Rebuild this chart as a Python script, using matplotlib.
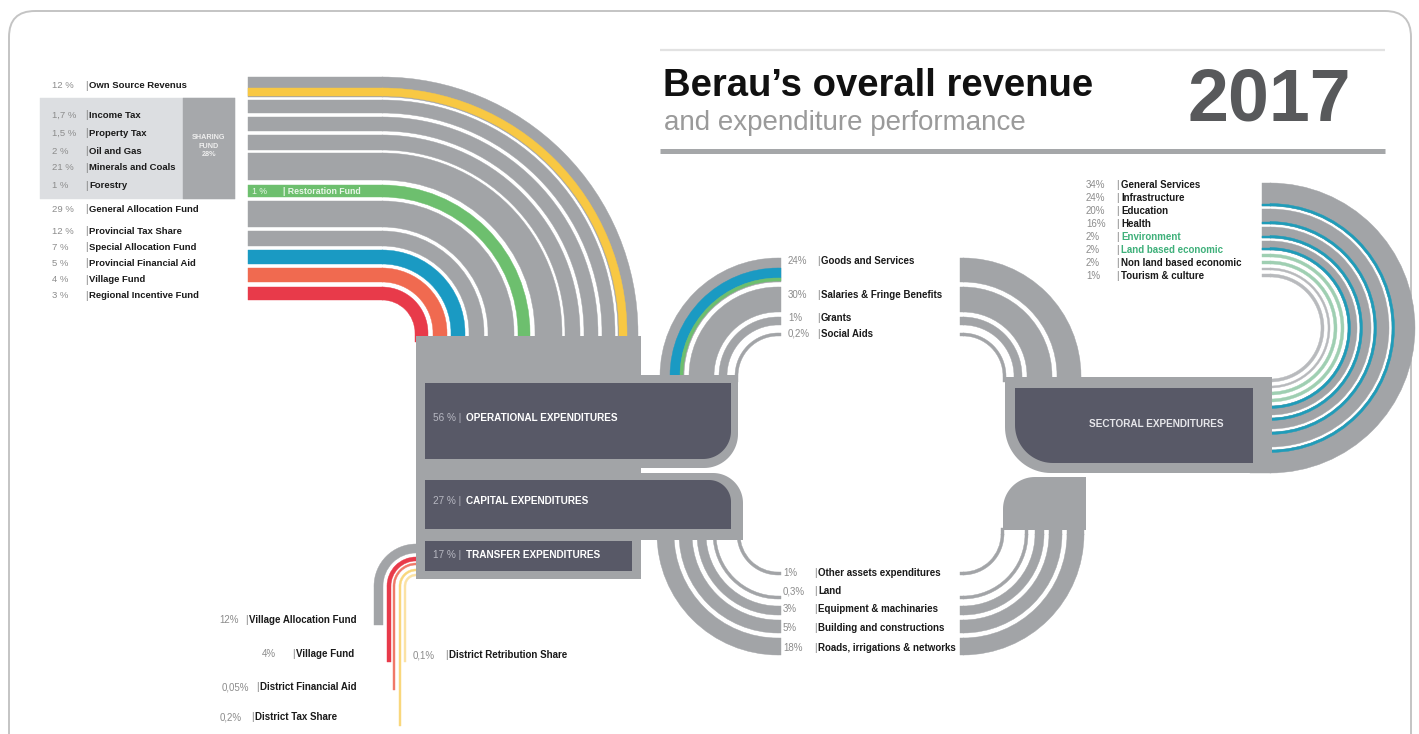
import matplotlib
matplotlib.use("Agg")
import matplotlib.pyplot as plt
from matplotlib.patches import Wedge, Rectangle, Polygon, FancyBboxPatch
import numpy as np

plt.rcParams['font.family'] = ['Liberation Sans', 'DejaVu Sans']

# ---------------- data ----------------
revenue_labels = ["Own Source Revenus", "Income Tax", "Property Tax", "Oil and Gas",
                  "Minerals and Coals", "Forestry", "General Allocation Fund",
                  "Provincial Tax Share", "Special Allocation Fund",
                  "Provincial Financial Aid", "Village Fund", "Regional Incentive Fund"]
revenue_pct = [12, 1.7, 1.5, 2, 21, 1, 29, 12, 7, 5, 4, 3]
sharing_fund_pct = 28
restoration_label = "Restoration Fund"
restoration_pct = 1

spending_labels = ["OPERATIONAL EXPENDITURES", "CAPITAL EXPENDITURES", "TRANSFER EXPENDITURES"]
spending_pct = [56, 27, 17]

operational_labels = ["Goods and Services", "Salaries & Fringe Benefits", "Grants", "Social Aids"]
operational_pct = [24, 30, 1, 0.2]

capital_labels = ["Other assets expenditures", "Land", "Equipment & machinaries",
                  "Building and constructions", "Roads, irrigations & networks"]
capital_pct = [1, 0.3, 3, 5, 18]

sectoral_title = "SECTORAL EXPENDITURES"
sectoral_labels = ["General Services", "Infrastructure", "Education", "Health",
                   "Environment", "Land based economic", "Non land based economic",
                   "Tourism & culture"]
sectoral_pct = [34, 24, 20, 16, 2, 2, 2, 1]

transfer_labels = ["Village Allocation Fund", "Village Fund", "District Financial Aid",
                   "District Tax Share", "District Retribution Share"]
transfer_pct = [12, 4, 0.05, 0.2, 0.1]

title = "Berau\u2019s overall revenue"
subtitle = "and expenditure performance"
year = "2017"

# ---------------- style ----------------
GRAY = '#a2a4a7'
DARK = '#585967'
LIGHT = '#dcdee1'
YELLOW = '#f8c843'
GREEN = '#6dbf6e'
BLUE = '#1a9ac3'
ORANGE = '#f06a50'
RED = '#e83a4a'
TEAL = '#1f9cb9'
PALEGREEN = '#9fcfb2'
PALEGRAY = '#b8babd'
TXTGREEN = '#3fb07a'


def fmt(v):
    return f"{v:g}".replace('.', ',')


fig = plt.figure(figsize=(14.19, 7.34), dpi=100)
ax = fig.add_axes([0, 0, 1, 1])
ax.set_xlim(0, 1419)
ax.set_ylim(734, 0)
ax.axis('off')


def rect(x0, y0, x1, y1, color, z=2):
    ax.add_patch(Rectangle((x0, y0), x1 - x0, y1 - y0, facecolor=color,
                           edgecolor=color, lw=0.3, zorder=z))


def arc(cx, cy, r_in, r_out, t1, t2, color, z=2):
    ax.add_patch(Wedge((cx, cy), r_out, t1, t2, width=r_out - r_in,
                       facecolor=color, edgecolor=color, lw=0.3, zorder=z))


def rrect(x0, y0, x1, y1, color, tl=0, tr=0, br=0, bl=0, z=3):
    def corner(cx, cy, r, a0, a1):
        t = np.radians(np.linspace(a0, a1, 24))
        return list(zip(cx + r * np.cos(t), cy + r * np.sin(t)))
    pts = []
    pts += corner(x0 + tl, y0 + tl, tl, 180, 270) if tl else [(x0, y0)]
    pts += corner(x1 - tr, y0 + tr, tr, 270, 360) if tr else [(x1, y0)]
    pts += corner(x1 - br, y1 - br, br, 0, 90) if br else [(x1, y1)]
    pts += corner(x0 + bl, y1 - bl, bl, 90, 180) if bl else [(x0, y1)]
    ax.add_patch(Polygon(pts, closed=True, facecolor=color, edgecolor='none', zorder=z))


# ---------------- outer frame ----------------
ax.add_patch(FancyBboxPatch((9, 11), 1402, 760, boxstyle="round,pad=0,rounding_size=26",
                            facecolor='none', edgecolor='#c4c4c4', lw=1.4, zorder=1))

# ---------------- revenue flows (top left) ----------------
RCX, RCY = 382, 333
rev_band_y = [(77, 97), (100, 113), (117, 131), (135, 150), (153, 180), (185, 197),
              (201, 227), (231, 246), (250, 264), (268, 282), (287, 300)]
rev_band_col = [GRAY, GRAY, GRAY, GRAY, GRAY, GREEN, GRAY, GRAY, BLUE, ORANGE, RED]
rev_stripes = [((88, 96), YELLOW)]


def rev_band(yt, yb, color):
    rect(248, yt, RCX + 0.5, yb, color)
    arc(RCX, RCY, RCY - yb, RCY - yt, 270, 360, color)
    rect(RCX + RCY - yb, RCY - 0.5, RCX + RCY - yt, 342, color)


for (yt, yb), c in zip(rev_band_y, rev_band_col):
    rev_band(yt, yb, c)
for (yt, yb), c in rev_stripes:
    rev_band(yt, yb, c)

# label panel
rect(40, 98, 235, 199, LIGHT, z=1)
rect(183, 98, 235, 199, '#a6a8ab', z=1)
ax.text(209, 146, f"SHARING\nFUND\n{sharing_fund_pct}%", color='#eeeeee', fontsize=5.2,
        fontweight='bold', ha='center', va='center', linespacing=1.25, zorder=4)

rev_rows = [86, 115, 133, 151, 168, 186, 209, 231, 247, 263, 280, 296]
for y, lab, p in zip(rev_rows, revenue_labels, revenue_pct):
    ax.text(52, y, f"{fmt(p)} %", fontsize=6.8, color='#8c8c8c', va='center', zorder=5)
    ax.text(85, y, "|", fontsize=7, color='#777777', va='center', zorder=5)
    ax.text(89, y, lab, fontsize=6.8, color='#1a1a1a', fontweight='bold', va='center', zorder=5)

ax.text(252, 191, f"{fmt(restoration_pct)} %", fontsize=6.3, color='#e9f6e9', va='center', zorder=5)
ax.text(283, 191, "| " + restoration_label, fontsize=6.3, color='#e9f6e9', fontweight='bold',
        va='center', zorder=5)

# ---------------- collector & expenditure boxes ----------------
rrect(416, 336, 641, 579, GRAY, z=3)
rrect(600, 375, 738, 468, GRAY, br=34, z=3)
rrect(600, 473, 743, 540, GRAY, tr=30, z=3)

rrect(425, 383, 731, 459, DARK, br=28, z=4)
rrect(425, 480, 731, 529, DARK, tr=22, z=4)
rrect(425, 541, 632, 571, DARK, z=4)

box_y = [418, 501, 555]
for y, lab, p in zip(box_y, spending_labels, spending_pct):
    ax.text(433, y, f"{p} % |", fontsize=7.2, color='#b7b8c2', va='center', zorder=6)
    ax.text(466, y, lab, fontsize=7.2, color='white', fontweight='bold', va='center', zorder=6)

# ---------------- operational flows ----------------
OCY = 376
OLX, ORX = 778, 963
op_r = [(94, 118), (64, 89), (51, 59), (40, 43)]
op_left_stripes = [((98, 108), BLUE), ((95, 98), GREEN)]


def op_left(ri, ro, color):
    arc(OLX, OCY, ri, ro, 180, 270, color)
    rect(OLX - 0.5, OCY - ro, OLX + 3, OCY - ri, color)
    rect(OLX - ro, OCY - 0.5, OLX - ri, OCY + 6, color)


def op_right(ri, ro, color):
    arc(ORX, OCY, ri, ro, 270, 360, color)
    rect(ORX - 3, OCY - ro, ORX + 0.5, OCY - ri, color)
    rect(ORX + ri, OCY - 0.5, ORX + ro, OCY + 6, color)


for ri, ro in op_r:
    op_left(ri, ro, GRAY)
    op_right(ri, ro, GRAY)
for (ri, ro), c in op_left_stripes:
    op_left(ri, ro, c)

op_rows = [261, 295, 318, 334]
for y, lab, p in zip(op_rows, operational_labels, operational_pct):
    ax.text(788, y, f"{fmt(p)}%", fontsize=7, color='#8c8c8c', va='center', zorder=5)
    ax.text(817, y, "|", fontsize=7, color='#777777', va='center', zorder=5)
    ax.text(821, y, lab, fontsize=7, color='#1a1a1a', fontweight='bold', va='center', zorder=5)

# ---------------- capital flows ----------------
CCY = 534
cap_r = [(38, 41), (62, 65), (72, 81), (86, 99), (104, 121)]


def cap_left(ri, ro, color):
    arc(OLX, CCY, ri, ro, 90, 180, color)
    rect(OLX - 0.5, CCY + ri, OLX + 3, CCY + ro, color)
    rect(OLX - ro, CCY - 6, OLX - ri, CCY + 0.5, color)


def cap_right(ri, ro, color):
    arc(ORX, CCY, ri, ro, 0, 90, color)
    rect(ORX - 3, CCY + ri, ORX + 0.5, CCY + ro, color)
    rect(ORX + ri, CCY - 6, ORX + ro, CCY + 0.5, color)


for ri, ro in cap_r:
    cap_left(ri, ro, GRAY)
    cap_right(ri, ro, GRAY)

rrect(1003, 477, 1086, 530, GRAY, tl=32, z=3)

cap_rows = [573, 591, 609, 628, 648]
for y, lab, p in zip(cap_rows, capital_labels, capital_pct):
    ax.text(783, y, f"{fmt(p)}%", fontsize=7, color='#8c8c8c', va='center', zorder=5)
    ax.text(814, y, "|", fontsize=7, color='#777777', va='center', zorder=5)
    ax.text(818, y, lab, fontsize=7, color='#1a1a1a', fontweight='bold', va='center', zorder=5)

# ---------------- sectoral ----------------
SCX, SCY = 1270, 328
sec_r = [(122, 145), (104, 119), (90, 101), (78, 87), (71, 74), (64, 67), (58, 60), (51, 54)]
sec_col = [GRAY, GRAY, GRAY, GRAY, PALEGREEN, PALEGREEN, PALEGRAY, PALEGRAY]
sec_stripes = [(122, 124.5), (104, 106.5), (90, 92.5), (78, 80.5)]


def sec_band(ri, ro, color):
    arc(SCX, SCY, ri, ro, -90, 90, color)
    rect(1262, SCY - ro, SCX + 0.5, SCY - ri, color)
    rect(1250, SCY + ri, SCX + 0.5, SCY + ro, color)


for (ri, ro), c in zip(sec_r, sec_col):
    sec_band(ri, ro, c)
for ri, ro in sec_stripes:
    sec_band(ri, ro, TEAL)

rrect(1005, 377, 1272, 473, GRAY, bl=46, z=3)
rrect(1015, 388, 1253, 463, DARK, bl=38, z=4)
ax.text(1156, 424, sectoral_title, fontsize=7.2, color='#e6e6ea', fontweight='bold',
        ha='center', va='center', zorder=6)

sec_rows = [185 + 13 * i for i in range(len(sectoral_labels))]
for i, (y, lab, p) in enumerate(zip(sec_rows, sectoral_labels, sectoral_pct)):
    col = TXTGREEN if i in (4, 5) else '#1a1a1a'
    ax.text(1086, y, f"{fmt(p)}%", fontsize=7, color='#8c8c8c', va='center', zorder=5)
    ax.text(1116, y, "|", fontsize=7, color='#777777', va='center', zorder=5)
    ax.text(1121, y, lab, fontsize=7, color=col, fontweight='bold', va='center', zorder=5)

# ---------------- transfer flows ----------------
TCX, TCY = 416, 586
tr_r = [(33, 42), (25, 29), (21, 23), (15, 17), (10, 12)]
tr_col = [GRAY, RED, '#f07868', '#f9d77c', '#fbe2a4']
tr_end = [625, 662, 690, 726, 662]
for (ri, ro), c, ye in zip(tr_r, tr_col, tr_end):
    arc(TCX, TCY, ri, ro, 180, 270, c)
    rect(TCX - 0.5, TCY - ro, TCX + 4, TCY - ri, c)
    rect(TCX - ro, TCY - 0.5, TCX - ri, ye, c)

tr_pct_x = [219, 262, 222, 220, 413]
tr_bar_x = [245, 292, 256, 251, 445]
tr_rows = [620, 654, 687, 717, 655]
for xp, xb, y, lab, p in zip(tr_pct_x, tr_bar_x, tr_rows, transfer_labels, transfer_pct):
    ax.text(xp, y, f"{fmt(p)}%", fontsize=7, color='#8c8c8c', va='center', zorder=5)
    ax.text(xb, y, "|", fontsize=7, color='#777777', va='center', zorder=5)
    ax.text(xb + 4, y, lab, fontsize=7, color='#1a1a1a', fontweight='bold', va='center', zorder=5)

# ---------------- title block ----------------
ax.plot([660, 1385], [50, 50], color='#e2e2e2', lw=1.6, solid_capstyle='butt', zorder=2)
ax.plot([660, 1385], [151, 151], color='#a5a7a9', lw=3.6, solid_capstyle='butt', zorder=2)
ax.text(663, 86, title, fontsize=27.5, fontweight='bold', color='#111111', va='center', zorder=5)
ax.text(664, 123, subtitle, fontsize=20, color='#9a9a9a', va='center', zorder=5)
ax.text(1187, 101, year, fontsize=53, fontweight='bold', color='#58595b', va='center', zorder=5)

fig.savefig("out.png", dpi=100)
